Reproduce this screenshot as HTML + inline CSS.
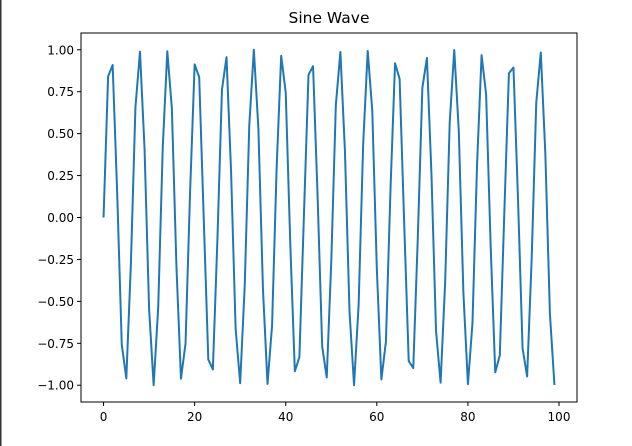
<!DOCTYPE html>
<html><head><meta charset="utf-8"><style>
body{margin:0;background:#fff;}
svg{display:block;font-family:"DejaVu Sans","Liberation Sans",sans-serif;}
</style></head><body>
<svg id="chart" width="632" height="446">
<rect x="0" y="0" width="1.5" height="446" fill="#333"/>
<text x="329" y="23" font-size="15.5" text-anchor="middle">Sine Wave</text>
<g id="ticks"></g>
<polyline id="line" fill="none" stroke="#1f77b4" stroke-width="2" stroke-linejoin="round"/>
<rect x="81" y="33" width="496" height="369" fill="none" stroke="#000" stroke-width="1"/>
</svg>
<script>
const xValues=[];for(let i=0;i<100;i++)xValues.push(i);
const yValues=[0,0.841,0.909,0.141,-0.757,-0.959,-0.279,0.657,0.989,0.412,-0.544,-1.000,-0.537,0.420,0.991,0.650,-0.288,-0.961,-0.751,0.150,0.913,0.837,-0.009,-0.846,-0.906,-0.132,0.763,0.956,0.271,-0.664,-0.988,-0.404,0.551,1.000,0.529,-0.428,-0.992,-0.644,0.296,0.964,0.745,-0.159,-0.917,-0.832,0.018,0.851,0.902,0.124,-0.768,-0.954,-0.262,0.670,0.987,0.396,-0.559,-1.000,-0.522,0.436,0.993,0.637,-0.305,-0.966,-0.739,0.167,0.920,0.827,-0.027,-0.856,-0.898,-0.115,0.774,0.951,0.254,-0.677,-0.985,-0.388,0.566,0.999,0.514,-0.444,-0.994,-0.630,0.313,0.968,0.733,-0.176,-0.923,-0.822,0.035,0.860,0.894,0.106,-0.780,-0.948,-0.245,0.683,0.984,0.380,-0.573,-0.999];
const xTicks=[0,20,40,60,80,100];
const yTicks=[1.00,0.75,0.50,0.25,0.00,-0.25,-0.50,-0.75,-1.00];
const L=81,R=577,T=33,B=402;
const xmin=-4.95,xmax=103.95,ymin=-1.1,ymax=1.1;
function sx(v){return L+(v-xmin)/(xmax-xmin)*(R-L);}
function sy(v){return B-(v-ymin)/(ymax-ymin)*(B-T);}
const ns="http://www.w3.org/2000/svg";
const line=document.getElementById('line');
line.setAttribute('points',xValues.map((x,i)=>sx(x).toFixed(2)+','+sy(yValues[i]).toFixed(2)).join(' '));
const g=document.getElementById('ticks');
xTicks.forEach(t=>{
 const l=document.createElementNS(ns,'line');
 l.setAttribute('x1',sx(t));l.setAttribute('x2',sx(t));l.setAttribute('y1',B);l.setAttribute('y2',B+4);l.setAttribute('stroke','#000');
 
 
 g.appendChild(l);
 const tx=document.createElementNS(ns,'text');
 tx.setAttribute('x',sx(t));tx.setAttribute('y',B+19);tx.setAttribute('font-size','12');tx.setAttribute('text-anchor','middle');
 tx.textContent=t;
 
 
 g.appendChild(tx);
});
yTicks.forEach(t=>{
 const l=document.createElementNS(ns,'line');
 l.setAttribute('x1',L-4);l.setAttribute('x2',L);l.setAttribute('y1',sy(t));l.setAttribute('y2',sy(t));l.setAttribute('stroke','#000');
 
 
 g.appendChild(l);
 const tx=document.createElementNS(ns,'text');
 tx.setAttribute('x',L-7);tx.setAttribute('y',sy(t)+4.5);tx.setAttribute('font-size','12');tx.setAttribute('text-anchor','end');
 tx.textContent=(t<0?'\u2212':'')+Math.abs(t).toFixed(2);
 
 
 g.appendChild(tx);
});
</script>
</body></html>
